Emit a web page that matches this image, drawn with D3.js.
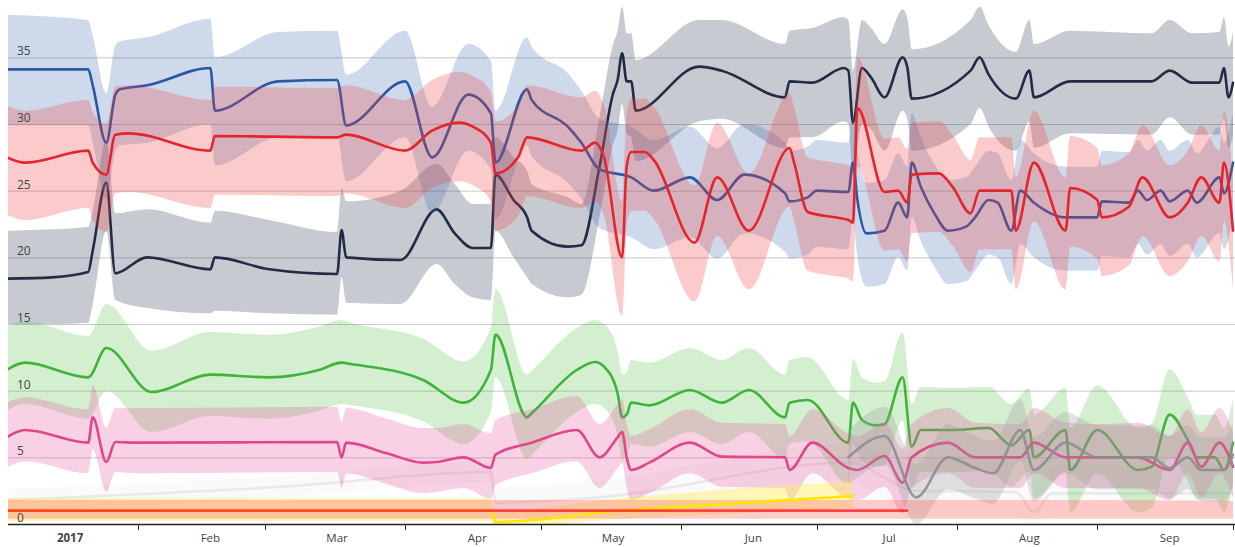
<!DOCTYPE html>
<html>
<head>
<meta charset="utf-8">
<script src="https://cdn.jsdelivr.net/npm/d3@7"></script>
<style>
    body { margin: 0; background: #fff; }
    svg { display: block; font-family: "Open Sans", sans-serif; }
</style>
</head>
<body>
<svg id="chart"></svg>
<script>
// ÖVP
const oevpDates = ["01-03","01-13","01-21","01-22","01-25","01-27","02-03","02-17","02-18","03-02","03-17","03-18","03-19","03-31","04-08","04-12","04-16","04-20","04-21","04-25","04-28","04-29","05-07","05-10","05-14","05-17","05-18","05-19","05-20","05-21","05-22","06-05","06-10","06-24","06-25","06-30","07-07","07-08","07-09","07-11","07-13","07-16","07-20","07-21","07-22","08-04","08-06","08-08","08-14","08-17","08-18","08-26","09-13","09-17","09-22","09-28","09-29","09-30","10-01"];
const oevpMid = [18.4,18.5,18.9,20.5,25.6,18.8,20.0,19.1,20.0,19.1,18.75,22.05,20.0,19.8,23.6,21.8,20.7,20.7,26.2,24.3,23.0,22.0,20.8,20.9,26.8,32.3,33.3,35.3,33.2,33.2,31.0,34.3,34.0,32.0,33.2,33.1,34.2,34.0,30.1,34.2,33.5,32.0,35.0,34.3,31.9,34.0,35.0,33.7,31.9,34.0,32.0,33.2,33.2,34.0,33.1,33.1,34.2,32.0,33.1];
const oevpHi = [22.0,22.1,22.3,23.5,28.8,23.3,23.6,22.6,23.5,22.8,21.9,25.2,24.2,25.0,27.0,25.5,24.0,24.0,29.0,27.5,26.5,25.5,24.5,24.0,30.5,36.0,37.0,38.8,36.8,36.8,34.8,37.8,37.8,36.0,37.0,37.2,38.0,37.8,34.0,37.8,37.2,36.0,38.6,38.0,35.6,37.8,38.8,37.4,35.4,37.8,36.0,37.0,36.8,37.8,36.8,36.9,38.0,35.8,36.9];
const oevpLo = [15.0,15.0,15.1,16.5,22.0,16.8,16.2,15.8,16.0,15.8,15.7,18.5,16.6,16.5,19.5,18.0,17.0,16.8,22.0,20.0,18.5,18.0,17.0,17.2,23.0,28.5,29.5,31.5,29.3,29.0,27.2,30.2,30.4,28.2,29.0,29.0,30.2,30.0,26.2,30.0,29.6,28.0,31.0,30.4,28.0,30.0,31.2,29.8,28.0,30.2,28.2,29.3,29.2,30.5,29.2,29.2,30.4,28.2,29.2];

// FPÖ
const fpoeDates = ["01-03","01-21","01-22","01-25","01-27","01-28","02-03","02-17","02-18","03-04","03-17","03-19","04-01","04-07","04-15","04-20","04-21","04-28","04-29","05-07","05-10","05-14","05-21","05-26","06-03","06-09","06-15","06-24","06-25","06-29","07-01","07-08","07-09","07-10","07-12","07-16","07-19","07-21","07-22","07-24","07-27","07-30","08-03","08-05","08-08","08-10","08-13","08-15","08-18","08-25","09-01","09-02","09-08","09-10","09-12","09-15","09-17","09-21","09-23","09-28","09-29","10-01"];
const fpoeMid = [34.1,34.1,32.9,28.6,32.2,32.6,32.9,34.2,31.0,33.2,33.3,29.9,33.2,27.5,32.2,30.8,27.1,32.6,31.8,29.8,28.6,26.6,26.0,25.0,26.0,24.3,26.2,24.8,24.2,24.5,25.0,24.9,27.1,24.3,21.8,22.0,24.1,23.0,27.1,25.3,23.3,22.0,22.3,23.0,24.3,24.1,22.0,25.0,24.1,23.0,23.0,24.2,24.1,25.0,24.3,25.0,24.2,25.0,24.1,26.0,24.8,27.1];
const fpoeHi = [38.2,37.8,36.6,32.3,35.9,36.2,36.5,37.9,35.0,36.9,37.0,33.7,37.0,31.3,36.0,34.7,31.0,36.5,35.8,33.8,32.5,30.4,29.8,28.8,29.8,28.2,30.0,28.6,28.0,28.3,28.8,28.6,30.8,28.0,25.6,25.8,27.8,26.8,30.8,29.0,27.0,25.8,26.0,26.8,28.0,27.8,25.8,28.8,27.8,26.8,26.8,28.0,27.9,28.8,28.0,28.8,28.0,28.8,27.8,29.8,28.6,30.8];
const fpoeLo = [29.9,29.9,28.6,24.4,28.0,28.4,28.6,30.0,26.9,29.0,29.1,25.7,29.0,23.3,28.0,26.6,22.9,28.4,27.6,25.6,24.4,22.2,21.5,20.6,21.5,19.9,21.8,20.4,19.9,20.2,20.8,20.6,22.9,20.0,17.8,18.0,20.0,19.0,23.0,21.2,19.3,18.0,18.2,19.0,20.2,20.0,18.0,21.0,20.0,19.0,19.0,20.1,20.0,21.0,20.2,21.0,20.1,21.0,20.0,21.8,20.6,23.0];

// SPÖ
const spoeDates = ["01-03","01-07","01-21","01-22","01-25","01-27","01-30","02-17","02-18","03-17","03-19","04-01","04-07","04-13","04-16","04-20","04-21","04-26","04-28","05-10","05-13","05-15","05-19","05-20","05-21","05-24","05-26","06-04","06-09","06-16","06-25","06-26","06-29","07-05","07-08","07-09","07-10","07-16","07-19","07-21","07-22","07-28","07-31","08-04","08-06","08-13","08-14","08-18","08-25","08-26","09-01","09-02","09-08","09-11","09-17","09-21","09-24","09-28","09-29","10-01"];
const spoeMid = [27.5,27.1,28.0,27.1,26.2,29.2,29.3,28.0,29.1,29.0,29.2,28.0,29.5,30.1,29.8,28.6,26.3,27.5,29.0,28.0,28.6,27.5,20.0,26.8,27.9,27.9,27.3,21.1,26.0,22.0,28.2,27.1,23.4,23.0,22.8,22.6,31.2,24.9,25.0,24.1,26.2,26.3,25.3,23.3,25.0,25.0,22.0,27.1,22.0,25.2,24.3,23.0,23.8,26.0,23.0,24.1,26.0,24.1,27.1,22.0];
const spoeHi = [31.4,31.0,31.8,30.9,30.0,32.8,32.9,31.8,32.8,32.7,32.9,31.8,33.3,33.9,33.6,32.4,30.2,31.4,32.9,32.0,32.5,31.4,24.2,30.8,31.9,31.9,31.3,25.4,30.1,26.3,32.3,31.2,27.5,27.1,26.9,26.7,35.0,28.9,29.0,28.1,30.1,30.2,29.2,27.3,29.0,29.0,26.0,31.0,26.0,29.1,28.2,26.9,27.8,29.9,26.9,28.0,29.9,28.0,31.0,26.0];
const spoeLo = [23.2,22.8,23.7,22.8,21.9,24.8,24.9,23.7,24.7,24.6,24.8,23.7,25.2,25.7,25.4,24.2,22.0,23.1,24.6,23.7,24.2,23.1,15.6,22.4,23.5,23.5,22.9,16.7,21.6,17.6,23.8,22.7,19.0,18.6,18.4,18.2,26.8,20.5,20.6,19.7,21.8,21.9,20.9,18.9,20.6,20.6,17.6,22.7,17.6,20.8,19.9,18.6,19.4,21.6,18.6,19.7,21.6,19.7,22.7,17.6];

// Grüne
const gruDates = ["01-03","01-07","01-21","01-25","02-04","02-17","03-02","03-13","03-18","03-20","04-05","04-14","04-20","04-21","04-28","04-29","05-09","05-13","05-15","05-18","05-19","05-20","05-21","05-25","06-03","06-10","06-16","06-24","06-25","06-29","07-08","07-09","07-11","07-14","07-16","07-20","07-22","07-24","07-31","08-08","08-13","08-17","08-18","08-25","08-26","09-01","09-10","09-13","09-17","09-21","09-23","09-27","09-29","10-01"];
const gruMid = [11.55,12.1,11.0,13.2,9.9,11.2,11.0,11.55,12.1,12.0,10.8,9.1,11.55,14.2,8.0,8.3,11.55,12.15,11.8,9.8,8.0,8.2,9.1,8.9,10.05,9.1,10.05,8.0,9.1,9.3,6.1,9.1,7.8,7.4,7.5,11.0,5.8,7.05,7.05,7.2,5.9,7.05,5.0,7.05,4.05,7.05,4.05,4.3,8.2,6.3,5.0,5.0,4.05,6.1];
const gruHi = [14.8,15.2,14.1,16.5,13.0,14.4,14.2,14.8,15.3,15.1,13.9,12.2,14.7,17.6,11.2,11.5,14.7,15.3,15.0,13.0,11.2,11.4,12.3,12.1,13.2,12.3,13.2,11.2,12.3,12.5,9.3,12.4,11.0,10.6,10.7,14.4,9.0,10.3,10.2,10.3,9.0,10.2,8.2,10.2,7.2,10.4,7.2,7.5,11.6,9.5,8.2,8.2,7.2,9.4];
const gruLo = [8.5,9.0,7.9,10.0,6.9,8.1,7.9,8.5,9.0,8.9,7.7,6.0,8.4,11.0,4.9,5.2,8.4,9.0,8.7,6.7,4.9,5.1,6.0,5.8,6.9,6.0,6.9,4.9,6.0,6.2,3.0,6.0,4.7,4.3,4.4,7.8,2.7,3.9,3.9,4.0,2.8,3.9,1.9,3.9,0.9,3.8,0.9,1.2,5.0,3.2,1.9,1.9,0.9,3.0];

// NEOS
const neosDates = ["01-03","01-07","01-21","01-22","01-25","01-27","02-01","03-17","03-18","03-19","03-28","04-05","04-08","04-14","04-20","04-21","04-29","05-09","05-14","05-18","05-19","05-20","05-21","05-25","06-03","06-10","06-24","06-25","06-30","07-08","07-10","07-16","07-20","07-22","07-30","08-05","08-15","08-18","08-25","09-01","09-10","09-17","09-21","09-24","09-28","10-01"];
const neosMid = [6.5,7.05,6.1,8.0,4.65,6.15,6.1,6.15,5.0,6.1,5.3,4.6,4.65,5.0,4.2,5.2,6.1,7.05,5.0,6.5,6.9,5.0,4.05,4.6,6.1,5.05,5.0,4.05,6.1,4.2,4.05,5.1,3.1,5.0,6.1,5.0,5.0,6.1,5.0,5.0,5.0,4.05,6.1,4.3,6.1,4.3];
const neosHi = [9.1,9.5,8.6,10.4,7.2,8.7,8.7,8.8,7.6,8.7,7.9,7.2,7.2,7.5,6.8,7.8,8.6,9.6,7.5,9.0,9.4,7.5,6.6,7.1,8.6,7.6,7.5,6.6,8.6,6.8,6.6,7.6,5.7,7.5,8.7,7.6,7.5,8.7,7.6,7.5,7.6,6.6,8.6,6.9,8.7,6.9];
const neosLo = [4.2,4.7,3.8,5.6,2.4,3.9,3.8,3.9,2.7,3.8,3.0,2.3,2.4,2.7,1.9,2.9,3.8,4.7,2.7,4.2,4.6,2.7,1.8,2.3,3.8,2.8,2.7,1.8,3.8,1.9,1.8,2.8,0.8,2.7,3.8,2.7,2.7,3.8,2.7,2.7,2.7,1.8,3.8,2.0,3.8,2.0];

// Liste Pilz
const pilzDates = ["07-08","07-16","07-23","07-30","08-05","08-09","08-15","08-18","08-25","09-01","09-13","09-17","09-21","09-24","09-29","10-01"];
const pilzMid = [5.0,6.6,2.0,5.0,4.2,3.8,7.05,4.05,6.1,5.0,5.0,4.2,5.0,4.05,4.05,5.2];
const pilzHi = [7.0,8.8,4.5,7.5,6.6,6.2,9.4,6.5,8.4,7.4,7.4,6.6,7.4,6.5,6.5,7.6];
const pilzLo = [3.0,4.4,0.0,2.6,1.9,1.5,4.7,1.7,3.8,2.6,2.6,1.9,2.6,1.7,1.7,2.9];

// faint series
const otherDates = ["01-03","03-05","04-20","04-21","05-14","07-08","07-23","08-14","08-18","08-22","10-01"];
const otherMid = [1.8,2.8,3.9,1.6,2.0,4.6,2.5,2.4,0.9,2.3,2.3];
const otherHi = [2.6,3.6,4.7,2.8,3.3,6.0,4.8,4.6,3.0,4.4,4.4];
const otherLo = [1.0,2.0,3.1,0.4,0.8,3.2,0.6,0.6,-0.2,0.6,0.6];

// small red
const kpoeDates = ["01-03","04-21","07-21","10-01"];
const kpoeMid = [1.0,1.0,1.0,null];
const kpoeHi = [1.8,1.8,1.8,1.75];
const kpoeLo = [0.4,0.4,0.4,0.4];

// small yellow
const yelDates = ["01-03","04-20","04-21","05-01","05-15","06-01","06-20","07-09"];
const yelMid = [1.0,1.0,0.15,0.35,0.9,1.3,1.7,2.1];
const yelHi = [1.95,1.95,0.9,1.2,1.8,2.3,2.8,3.2];
const yelLo = [0.2,0.2,-0.4,-0.2,0.3,0.6,0.9,1.2];

const yTicks = [0, 5, 10, 15, 20, 25, 30, 35];
const monthLabels = ["2017", "Feb", "Mar", "Apr", "May", "Jun", "Jul", "Aug", "Sep"];

const width = 1235;
const height = 547;
const parse = d3.utcParse("%Y-%m-%d");

function rows(dates, mid, hi, lo) {
    return dates.map((d, i) => ({ date: parse("2017-" + d), v: mid[i], hi: hi[i], lo: lo[i] }));
}

const series = [
    { rows: rows(otherDates, otherMid, otherHi, otherLo), line: "#dedede", band: "#d8d8d8", op: 0.12, lineOp: 0.6 },
    { rows: rows(oevpDates, oevpMid, oevpHi, oevpLo), line: "#232c47", band: "#4a5068", op: 0.3, lineOp: 1 },
    { rows: rows(fpoeDates, fpoeMid, fpoeHi, fpoeLo), line: "#2a58a4", band: "#3c6cb4", op: 0.25, lineOp: 1 },
    { rows: rows(spoeDates, spoeMid, spoeHi, spoeLo), line: "#e3262d", band: "#f04040", op: 0.27, lineOp: 1 },
    { rows: rows(gruDates, gruMid, gruHi, gruLo), line: "#40b33a", band: "#50c040", op: 0.25, lineOp: 1 },
    { rows: rows(neosDates, neosMid, neosHi, neosLo), line: "#e0478a", band: "#e6559a", op: 0.27, lineOp: 1 },
    { rows: rows(pilzDates, pilzMid, pilzHi, pilzLo), line: "#8e8e8e", band: "#a0a0a0", op: 0.3, lineOp: 0.9 },
    { rows: rows(yelDates, yelMid, yelHi, yelLo), line: "#ffe600", band: "#ffe94d", op: 0.4, lineOp: 1 },
    { rows: rows(kpoeDates, kpoeMid, kpoeHi, kpoeLo), line: "#ff2020", band: "#ff6b6b", op: 0.35, lineOp: 0.8 }
];

const svg = d3.select("#chart")
    .attr("width", width)
    .attr("height", height);

const x = d3.scaleUtc()
    .domain([new Date(Date.UTC(2017, 0, 1)), new Date(Date.UTC(2017, 9, 1))])
    .range([-2.3, 1233]);

const y = d3.scaleLinear()
    .domain([0, 39.3])
    .range([524, 0]);

// gridlines
svg.append("g")
    .selectAll("line")
    .data(yTicks.filter(t => t > 0))
    .enter()
    .append("line")
    .attr("x1", 8)
    .attr("x2", width)
    .attr("y1", d => y(d) + 0.5)
    .attr("y2", d => y(d) + 0.5)
    .attr("stroke", "#c8c8c8")
    .attr("stroke-width", 1);

svg.append("defs").append("clipPath")
    .attr("id", "plot")
    .append("rect")
    .attr("x", 8)
    .attr("y", 0)
    .attr("width", width - 8)
    .attr("height", 524);

const plot = svg.append("g").attr("clip-path", "url(#plot)");

const area = d3.area()
    .x(d => x(d.date))
    .y0(d => y(d.lo))
    .y1(d => y(d.hi))
    .curve(d3.curveMonotoneX);

const line = d3.line()
    .defined(d => d.v != null)
    .x(d => x(d.date))
    .y(d => y(d.v))
    .curve(d3.curveMonotoneX);

// yellow and small red bands go under both small lines
const small = series.slice(7);
const big = series.slice(0, 7);

big.forEach(s => {
    plot.append("path")
        .datum(s.rows)
        .attr("d", area)
        .attr("fill", s.band)
        .attr("fill-opacity", s.op);
    plot.append("path")
        .datum(s.rows)
        .attr("d", line)
        .attr("fill", "none")
        .attr("stroke", s.line)
        .attr("stroke-opacity", s.lineOp)
        .attr("stroke-width", 2.6)
        .attr("stroke-linejoin", "round")
        .attr("stroke-linecap", "round");
});

small.forEach(s => {
    plot.append("path")
        .datum(s.rows)
        .attr("d", area)
        .attr("fill", s.band)
        .attr("fill-opacity", s.op);
});
small.forEach(s => {
    plot.append("path")
        .datum(s.rows)
        .attr("d", line)
        .attr("fill", "none")
        .attr("stroke", s.line)
        .attr("stroke-opacity", s.lineOp)
        .attr("stroke-width", 2.6)
        .attr("stroke-linecap", "round");
});

// y labels
svg.append("g")
    .selectAll("text")
    .data(yTicks)
    .enter()
    .append("text")
    .attr("x", 17)
    .attr("y", d => y(d) - 2)
    .style("font-size", "12px")
    .attr("fill", "#444")
    .text(d => d);

// x axis
svg.append("line")
    .attr("x1", 8)
    .attr("x2", width)
    .attr("y1", 524.5)
    .attr("y2", 524.5)
    .attr("stroke", "#222")
    .attr("stroke-width", 1.5);

const tickDates = d3.utcMonth.range(new Date(Date.UTC(2017, 1, 1)), new Date(Date.UTC(2017, 9, 2)));

svg.append("g")
    .selectAll("line")
    .data(tickDates)
    .enter()
    .append("line")
    .attr("x1", d => Math.round(x(d)) + 0.5)
    .attr("x2", d => Math.round(x(d)) + 0.5)
    .attr("y1", 524)
    .attr("y2", 530)
    .attr("stroke", "#333")
    .attr("stroke-width", 1);

const monthStarts = d3.utcMonth.range(new Date(Date.UTC(2017, 0, 1)), new Date(Date.UTC(2017, 9, 1)));

svg.append("g")
    .selectAll("text")
    .data(monthStarts)
    .enter()
    .append("text")
    .attr("x", d => x(d3.utcDay.offset(d, 16)))
    .attr("y", 542)
    .attr("text-anchor", "middle")
    .style("font-size", "11.5px")
    .style("font-weight", (d, i) => i === 0 ? "bold" : "normal")
    .attr("fill", "#444")
    .text((d, i) => monthLabels[i]);
</script>
</body>
</html>
